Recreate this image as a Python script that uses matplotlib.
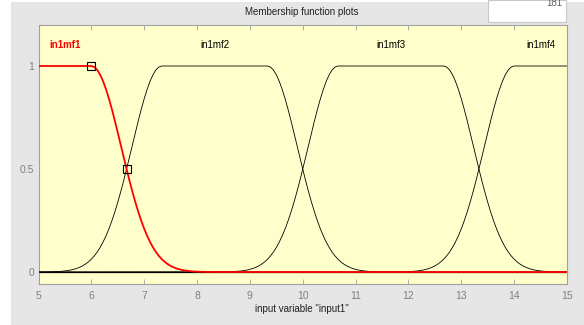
import numpy as np
import matplotlib
matplotlib.use('Agg')
import matplotlib.pyplot as plt
from matplotlib.patches import Rectangle

# membership functions of input1 (gauss2mf: sigma1, c1, sigma2, c2)
mf_names = ['in1mf1', 'in1mf2', 'in1mf3', 'in1mf4']
mf_sig1 = [0.566, 0.566, 0.566, 0.566]
mf_c1 = [4.0, 7.333, 10.667, 14.0]
mf_sig2 = [0.566, 0.566, 0.566, 0.566]
mf_c2 = [6.0, 9.333, 12.667, 16.0]
label_x = [5.5, 8.333, 11.667, 14.5]
npts = 181
xrange_ = [5, 15]
# control points of the selected mf
sel_x = [6.0, 6.667]
sel_y = [1.0, 0.5]

def gauss2mf(x, s1, c1, s2, c2):
    y = np.ones_like(x)
    lo = x < c1
    hi = x > c2
    y[lo] = np.exp(-(x[lo] - c1)**2 / (2 * s1**2))
    y[hi] = np.exp(-(x[hi] - c2)**2 / (2 * s2**2))
    return y

plt.rcParams['font.family'] = ['Liberation Sans Narrow', 'Liberation Sans', 'DejaVu Sans']

fig = plt.figure(figsize=(5.84, 3.25), dpi=100)
fig.patch.set_facecolor('white')
fig.patches.append(Rectangle((11/584, 0), 1, 1 - 2/325, transform=fig.transFigure,
                             facecolor='#e6e6e6', edgecolor='none', zorder=-10))
# point count box
fig.patches.append(Rectangle((488/584, 1 - 22/325), 78/584, 22/325, transform=fig.transFigure,
                             facecolor='white', edgecolor='#c8c8c8', lw=0.8, zorder=-5))
fig.text(562/584, 1 - 3/325, str(npts), ha='right', va='center', fontsize=7, color='#606060')

ax = fig.add_axes([38.5/584, 41/325, 528.5/584, 259/325])
ax.set_zorder(2)
ax.set_facecolor('#ffffcc')

x = np.linspace(xrange_[0], xrange_[1], npts)
ax.axhline(0, color='black', lw=0.9, zorder=2)
for i in range(len(mf_names)):
    y = gauss2mf(x, mf_sig1[i], mf_c1[i], mf_sig2[i], mf_c2[i])
    if i == 0:
        ax.plot(x, y, color='red', lw=1.3, zorder=4)
        ax.text(label_x[i], 1.1, mf_names[i], color='red', fontweight='bold',
                ha='center', va='center', fontsize=7)
    else:
        ax.plot(x, y, color='black', lw=0.6, zorder=3)
        ax.text(label_x[i], 1.1, mf_names[i], color='black',
                ha='center', va='center', fontsize=7)
ax.plot(sel_x, sel_y, ls='none', marker='s', markersize=6, markerfacecolor='none',
        markeredgecolor='black', markeredgewidth=0.8, zorder=5)

ax.set_xlim(xrange_)
ax.set_ylim(-0.058, 1.199)
ax.set_xticks(range(5, 16))
ax.set_yticks([0, 0.5, 1])
ax.set_yticklabels(['0', '0.5', '1'])
ax.tick_params(axis='x', direction='in', top=True, length=3.5, width=0.6,
               color='#a0a0a0', labelcolor='#808080', labelsize=7.5, pad=5)
ax.tick_params(axis='y', length=0, labelcolor='#808080', labelsize=7.5, pad=3)
for s in ax.spines.values():
    s.set_color('#a0a0a0')
    s.set_linewidth(0.8)

fig.text(302/584, 1 - 12/325, 'Membership function plots', ha='center', va='center',
         fontsize=7, color='#202020')
fig.text(302/584, 1 - 309/325, 'input variable "input1"', ha='center', va='center',
         fontsize=7, color='#202020')

plt.savefig('out.png', dpi=100, facecolor=fig.get_facecolor())
